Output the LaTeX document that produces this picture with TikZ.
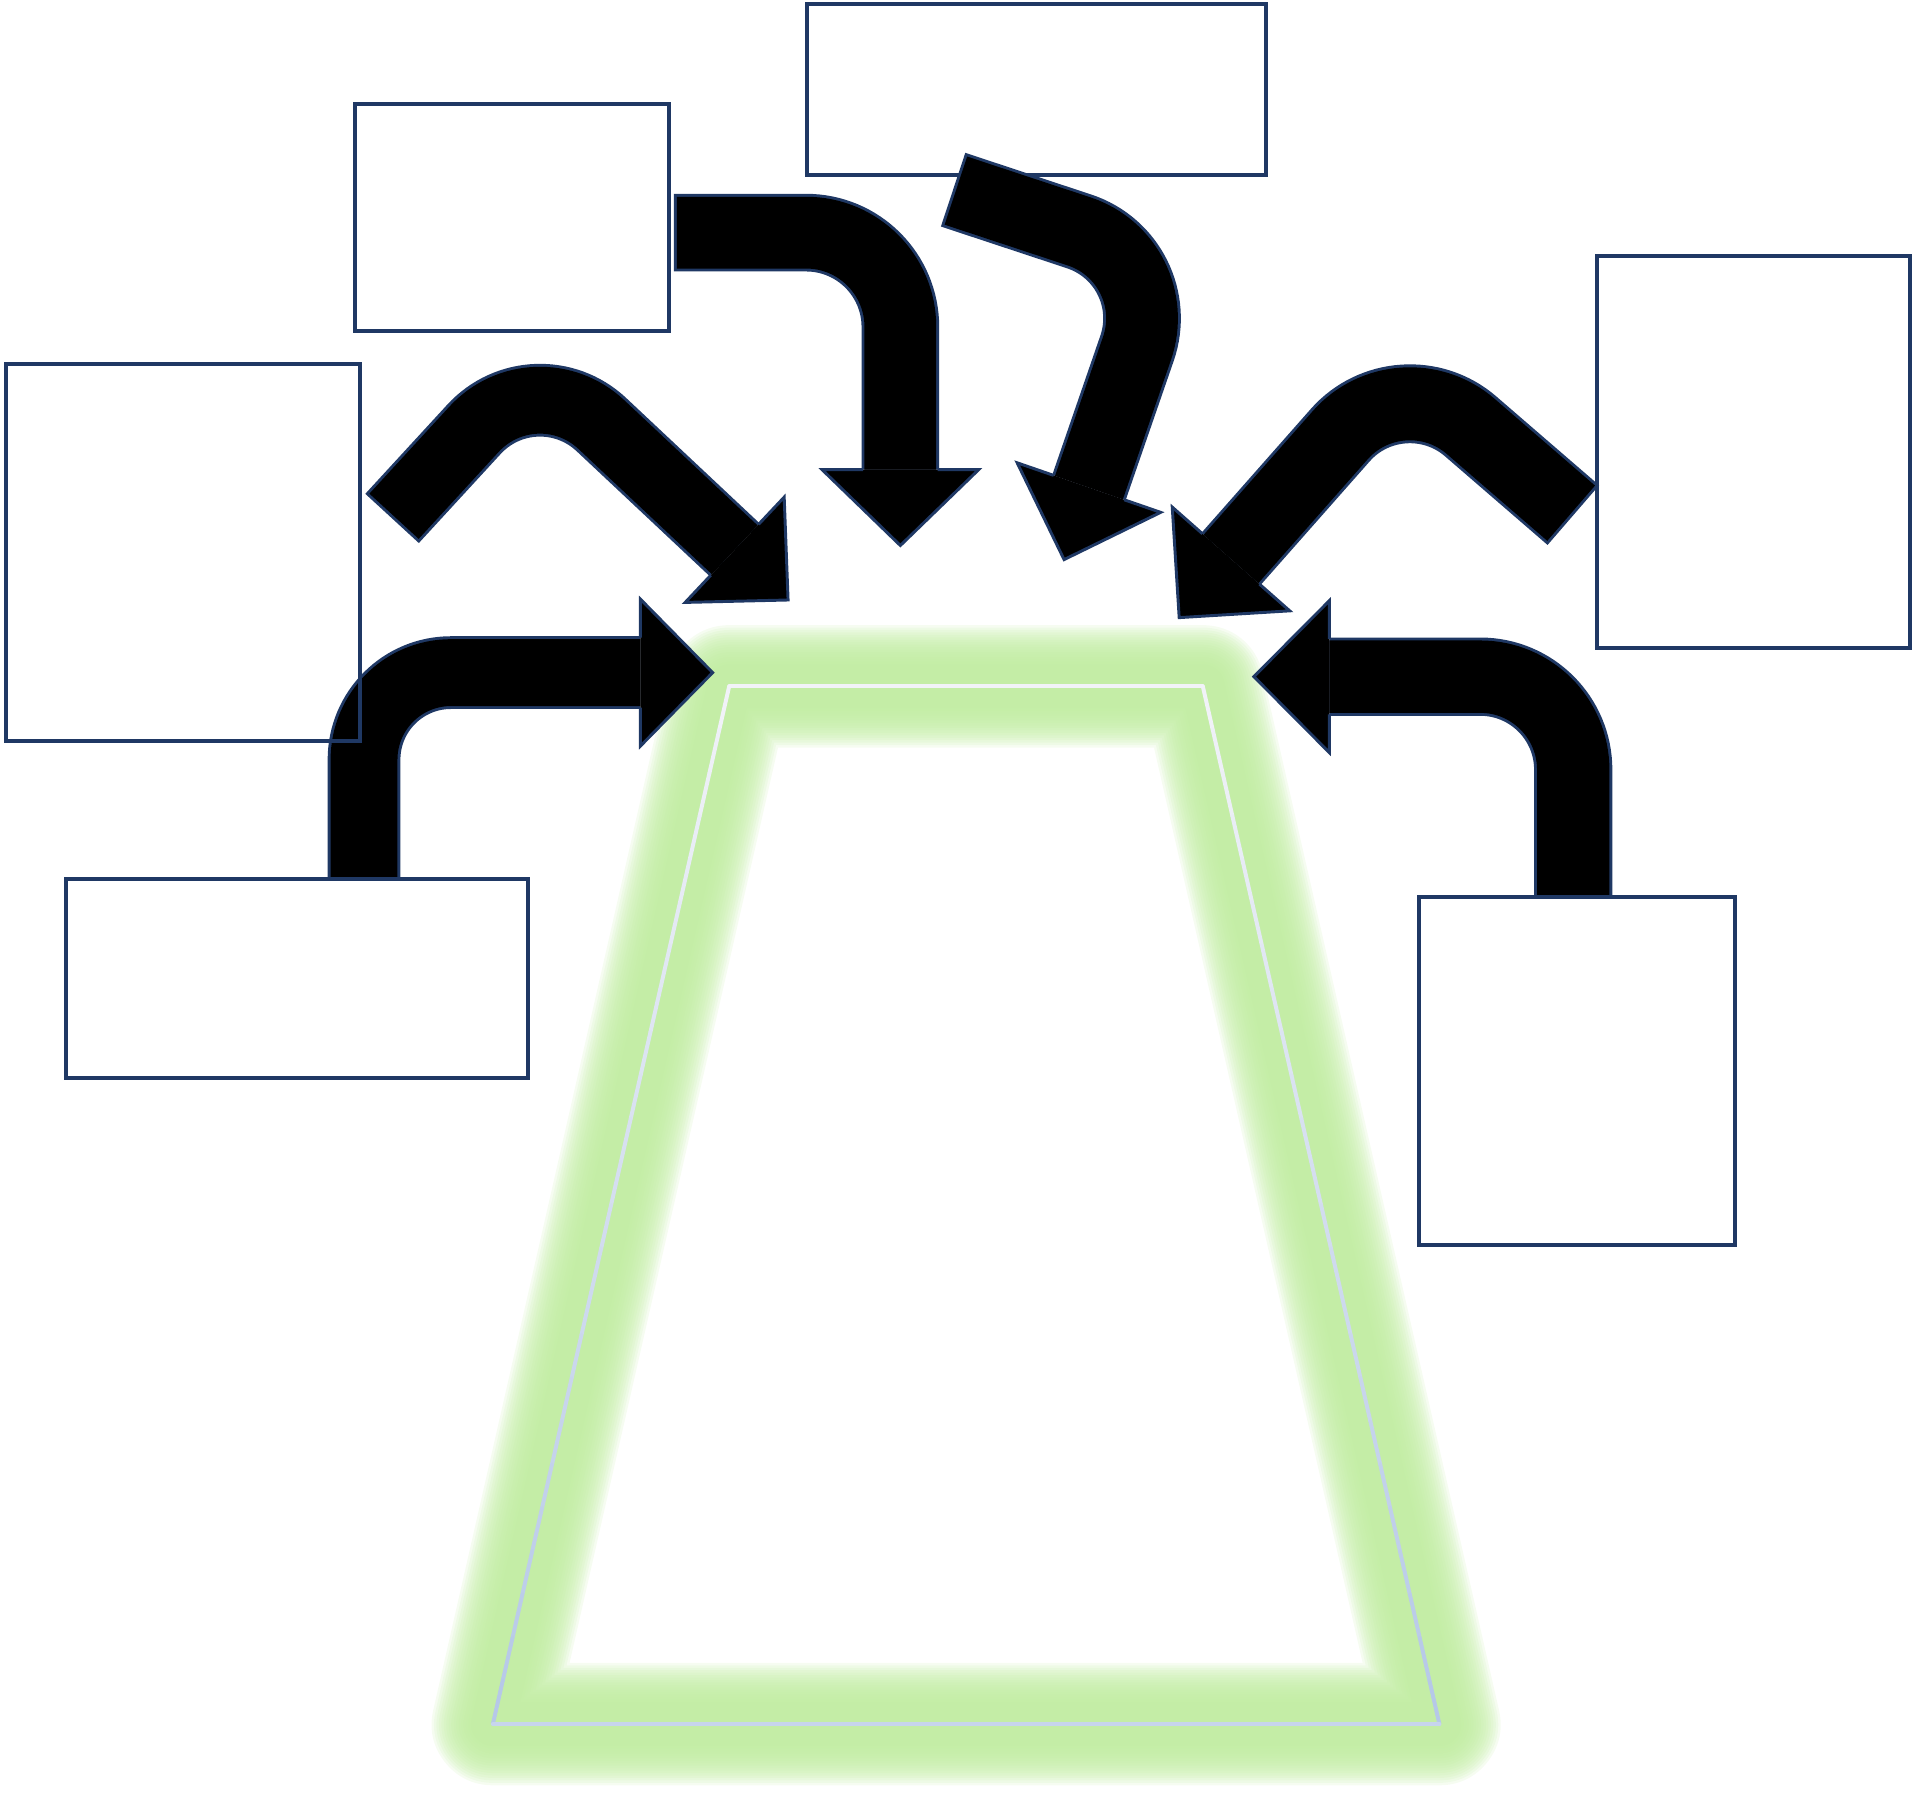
\documentclass[tikz,border=0pt]{standalone}
\usetikzlibrary{calc}
\definecolor{bxNavy}{HTML}{1F3864}
\definecolor{glowGrn}{HTML}{BFEC9F}
\definecolor{edgeBlu}{HTML}{B4C7E7}
\definecolor{edgeTop}{HTML}{F2F3F8}

\begin{document}
\begin{tikzpicture}[
  x=0.0125cm, y=-0.0125cm,
  box/.style  ={draw=bxNavy, line width=1.15pt, inner sep=0pt, outer sep=0pt},
  glow/.style ={draw=glowGrn, line join=round, opacity=0.14},
  rim/.style  ={line width=1.15pt, line cap=round},
]
\def\pxu{0.0125cm}
\pgfmathsetmacro{\lw}{2.4}   % arrow outline, px

\useasboundingbox (0,0) rectangle (1568,1482);

% ---- the trapezoid and its glow --------------------------------------------
\coordinate (tl) at (595.5,560.5);
\coordinate (tr) at (982.3,560.5);
\coordinate (br) at (1175.5,1408);
\coordinate (bl) at (402.5,1408);

% soft glow: stacked translucent strokes, widest first
\foreach \gw in {100,96,...,36}
  \draw[glow, line width=\gw*\pxu] (tl) -- (tr) -- (br) -- (bl) -- cycle;

% rim: near white on top, light blue towards the base
\foreach \i in {0,...,23} {
  \pgfmathsetmacro{\ta}{\i/24}
  \pgfmathsetmacro{\tb}{(\i+1)/24}
  \pgfmathtruncatemacro{\pc}{100*(\i+0.5)/24}
  \draw[rim, draw=edgeBlu!\pc!edgeTop] ($(tl)!\ta!(bl)$) -- ($(tl)!\tb!(bl)$);
  \draw[rim, draw=edgeBlu!\pc!edgeTop] ($(tr)!\ta!(br)$) -- ($(tr)!\tb!(br)$);
}
\draw[rim, draw=edgeTop] (tl) -- (tr);
\draw[rim, draw=edgeBlu!75!white] (bl) -- (br);

% ---- top box sits under the arrow that leaves it -----------------------------
\node[box, minimum width=374.5*\pxu, minimum height=140*\pxu] (top) at (846.3,73) {};

% ---- bent block arrows: tail, corner, base of head, tip ----------------------
\coordinate (t1) at (297.3,718);    \coordinate (c1) at (297.3,549.3);
\coordinate (b1) at (523,549.3);    \coordinate (p1) at (582,549.3);
\coordinate (t2) at (321,422.5);    \coordinate (c2) at (437.2,296.1);
\coordinate (b2) at (600,449);      \coordinate (p2) at (643.6,490);
\coordinate (t3) at (551.6,190);    \coordinate (c3) at (735.3,190);
\coordinate (b3) at (735.3,383.5);  \coordinate (p3) at (735.3,445.5);
\coordinate (t4) at (779.5,155.3);  \coordinate (c4) at (953.3,212.8);
\coordinate (b4) at (889.3,398.2);  \coordinate (p4) at (869,457);
\coordinate (t5) at (1284,419.9);   \coordinate (c5) at (1144.2,299.1);
\coordinate (b5) at (1005.3,456.5); \coordinate (p5) at (963,504.4);
\coordinate (t6) at (1284.8,732.6); \coordinate (c6) at (1284.8,552.6);
\coordinate (b6) at (1085.6,552.6); \coordinate (p6) at (1024,552.6);

\foreach \i/\w/\h/\r in {1/57/60/71, 2/57/59/74, 3/61/64/77,
                         4/61/62/76, 5/62/64/75, 6/61.5/62/76} {
  \pgfmathsetlengthmacro{\wo}{(\w+\lw)*0.0125cm}
  \pgfmathsetlengthmacro{\wi}{(\w-\lw)*0.0125cm}
  \pgfmathsetlengthmacro{\rc}{\r*0.0125cm}
  \pgfmathsetlengthmacro{\hh}{\h*0.0125cm}
  \pgfmathsetlengthmacro{\hw}{\w*0.0125cm/2}
  \pgfmathsetlengthmacro{\ex}{\lw*0.0125cm/2}
  \draw[bxNavy, line width=\wo, rounded corners=\rc, shorten <=-\ex] (t\i) -- (c\i) -- (b\i);
  \draw[black, line width=\wi, rounded corners=\rc, shorten <=\ex] (t\i) -- (c\i) -- (b\i);
  \fill[black] ($(b\i)!\hh!90:(p\i)$) -- (p\i) -- ($(b\i)!\hh!-90:(p\i)$) -- cycle;
  \draw[bxNavy, line width=\lw*0.0125cm]
    ($(b\i)!\hw!90:(p\i)$) -- ($(b\i)!\hh!90:(p\i)$) -- (p\i)
    -- ($(b\i)!\hh!-90:(p\i)$) -- ($(b\i)!\hw!-90:(p\i)$);
}

% ---- the other boxes, drawn over the arrows ----------------------------------
\node[box, minimum width=289*\pxu,   minimum height=308*\pxu]   (lft) at (149.5,451.2) {};
\node[box, minimum width=256.4*\pxu, minimum height=185.4*\pxu] (upl) at (418.1,177.6) {};
\node[box, minimum width=255.6*\pxu, minimum height=320.2*\pxu] (rgt) at (1432,369.1) {};
\node[box, minimum width=377.3*\pxu, minimum height=162.5*\pxu] (btl) at (242.6,799) {};
\node[box, minimum width=258*\pxu,   minimum height=284.2*\pxu] (btr) at (1287.9,874.6) {};

\end{tikzpicture}
\end{document}
